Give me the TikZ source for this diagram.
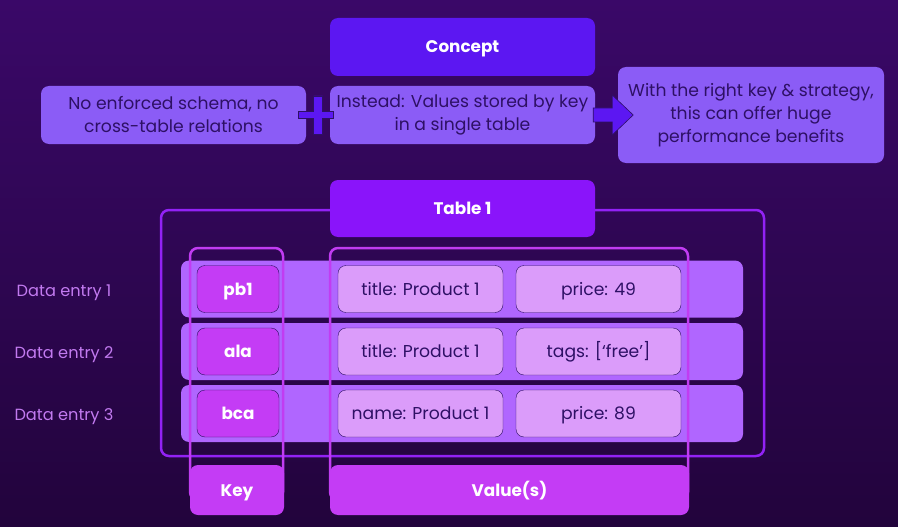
\documentclass[tikz,border=0pt]{standalone}
\usepackage{fontspec}
\setmainfont{Poppins}
\usetikzlibrary{calc,positioning}
\definecolor{bgtop}{HTML}{3A0868}
\definecolor{bgbot}{HTML}{22043C}
\definecolor{concept}{HTML}{5C17F2}
\definecolor{lilac}{HTML}{8B5CF6}
\definecolor{inkdark}{HTML}{2E1065}
\definecolor{tablehead}{HTML}{8A14FA}
\definecolor{tableline}{HTML}{9222F5}
\definecolor{colline}{HTML}{C13CF2}
\definecolor{rowfill}{HTML}{B066FF}
\definecolor{keyfill}{HTML}{C43CF5}
\definecolor{valfill}{HTML}{DB9CFA}
\definecolor{entryink}{HTML}{C27AF0}

\begin{document}
\begin{tikzpicture}[x=1pt,y=-1pt,
    every node/.style={inner sep=0pt,align=center},
    txt/.style={font=\fontsize{17.2}{23}\selectfont},
    oneline/.style={text height=12pt,text depth=0pt},
    headbox/.style={rounded corners=8pt,fill=#1,text=white,oneline,
      font=\fontsize{16.8}{20}\selectfont\bfseries},
    notebox/.style={rounded corners=8pt,fill=lilac,text=inkdark,txt},
    rowbox/.style={rounded corners=8pt,fill=rowfill,minimum width=562,minimum height=57},
    keycell/.style={rounded corners=8pt,fill=keyfill,draw=inkdark,thin,text=white,oneline,
      minimum width=82,minimum height=47,font=\fontsize{16.8}{20}\selectfont\bfseries},
    valcell/.style={rounded corners=8pt,fill=valfill,draw=inkdark,thin,text=inkdark,oneline,
      minimum width=165,minimum height=47,txt},
    colframe/.style={rounded corners=8pt,draw=colline,line width=2.5pt},
    shapeink/.style={fill=concept,draw=inkdark,line width=0.6pt}]
  % background
  \shade[top color=bgtop,bottom color=bgbot] (0,0) rectangle (898,527);
  \useasboundingbox (0,0) rectangle (898,527);

  % concept row
  \node[headbox=concept,minimum width=265,minimum height=58] (concept) at (462.5,47) {Concept};
  \node[notebox,minimum width=265,minimum height=58] (noschema) at (173.5,115)
    {No enforced schema, no\\cross-table relations};
  \node[notebox,minimum width=265,minimum height=58] (instead) at (462.5,115)
    {Instead: Values stored by key\\in a single table};
  \node[notebox,minimum width=266,minimum height=96] (benefits) at (751,115)
    {With the right key \& strategy,\\this can offer huge\\performance benefits};

  % plus and arrow
  \coordinate (plus) at ($(noschema.east)!0.5!(instead.west)$);
  \draw[shapeink] ($(plus)+(-4.5,-19)$) -- ++(9,0) -- ++(0,15.5) -- ++(11,0) -- ++(0,7)
    -- ++(-11,0) -- ++(0,15.5) -- ++(-9,0) -- ++(0,-15.5) -- ++(-15.5,0) -- ++(0,-7)
    -- ++(15.5,0) -- cycle;
  \coordinate (tail) at ($(instead.east)+(-2,0)$);
  \draw[shapeink] ($(tail)+(0,-7)$) -- ++(19,0) -- ++(0,-13) -- ++(21,20) -- ++(-21,20)
    -- ++(0,-13) -- ++(-19,0) -- cycle;

  % table frame
  \node[rounded corners=8pt,draw=tableline,line width=2.5pt,minimum width=603,minimum height=246]
    (table) at (462.5,333) {};

  % data entries
  \foreach \i/\y in {1/289,2/351.5,3/413.5}{
    \node[rowbox] (row\i) at (462,\y) {};
    \node[text=entryink,oneline,font=\fontsize{16.2}{18}\selectfont] (entry\i) at (64,\y+1) {Data entry \i};
  }

  % columns
  \draw[colframe] (190,248) rectangle (283,500);
  \draw[colframe] (330,248) rectangle (688,500);
  \node[headbox=keyfill,minimum width=94,minimum height=50] (key) at (237,490) {Key};
  \node[headbox=keyfill,minimum width=359,minimum height=50] (values) at (509.5,490) {Value(s)};

  % cells
  \foreach \i/\k/\a/\b in {1/pb1/title: Product 1/price: 49,
                           2/ala/title: Product 1/tags: [‘free’],
                           3/bca/name: Product 1/price: 89}{
    \node[keycell] (key\i) at (238,0 |- row\i) {\k};
    \node[valcell] (vala\i) at (420.5,0 |- row\i) {\a};
    \node[valcell] (valb\i) at (598.5,0 |- row\i) {\b};
  }

  \node[headbox=tablehead,minimum width=265,minimum height=57] (tabletitle) at (462.5,208.5) {Table 1};
\end{tikzpicture}
\end{document}
